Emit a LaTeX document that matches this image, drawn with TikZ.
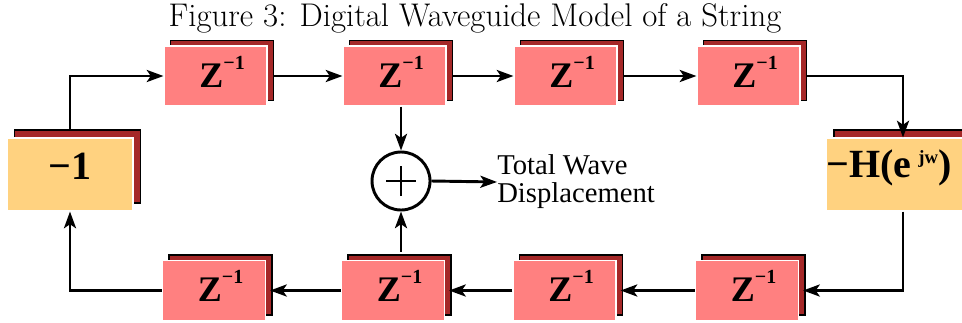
\documentclass[tikz,border=0pt]{standalone}
\usepackage{fontspec}
\newfontfamily\tms{Liberation Serif}
\usetikzlibrary{arrows.meta,shadows,calc}
\definecolor{zpink}{RGB}{255,128,128}
\definecolor{shred}{RGB}{165,40,40}
\definecolor{ygold}{RGB}{255,210,128}
\newcommand\zinv{\tms\bfseries\fontsize{27}{27}\selectfont\hspace*{10pt}Z\raisebox{13.5pt}{\fontsize{15}{15}\selectfont −1}}
\begin{document}
\begin{tikzpicture}[x=0.75pt,y=-0.75pt,
  box/.style={rectangle, inner sep=0pt, draw=white, line width=0.8pt},
  zbox/.style={box, fill=zpink, minimum width=77.25pt, minimum height=45pt,
    text height=20pt, text depth=3.5pt,
    copy shadow={shadow xshift=5pt, shadow yshift=4.2pt, fill=shred, draw=black, line width=1.2pt}},
  ybox/.style={box, fill=ygold, minimum width=94.5pt, minimum height=54.75pt,
    copy shadow={shadow xshift=5.5pt, shadow yshift=6pt, fill=shred, draw=black, line width=1.2pt}},
  conn/.style={line width=2.2pt, -{Stealth[length=12.5pt,width=9pt,inset=3pt]}},
  sumnode/.style={circle, draw=black, line width=2.2pt, fill=white, minimum size=43.5pt, inner sep=0pt},
  ]
\useasboundingbox (0,0) rectangle (962,322);

\node[anchor=base, inner sep=0pt] (title) at (475,26) {\fontsize{24.6}{24.6}\selectfont Figure 3: Digital Waveguide Model of a String};

% top row
\node[zbox] (z1) at (215.5,76) {\zinv};
\node[zbox] (z2) at (394.5,76) {\zinv};
\node[zbox] (z3) at (565.5,76) {\zinv};
\node[zbox] (z4) at (748.5,76) {\zinv};
% bottom row
\node[zbox] (b1) at (214,290.5) {\zinv};
\node[zbox] (b2) at (393,290.5) {\zinv};
\node[zbox] (b3) at (564.5,290.5) {\zinv};
\node[zbox] (b4) at (747,290.5) {\zinv};
% side boxes
\node[ybox, text height=12pt, text depth=5.2pt] (m1) at (70,174.5)
  {\tms\bfseries\fontsize{30}{30}\selectfont −1};
\node[ybox, text height=10pt, text depth=6.2pt] (hb) at (897,174.5)
  {\tms\bfseries\fontsize{30}{30}\selectfont −H(e\hspace{5pt}\raisebox{10.5pt}{\fontsize{14}{14}\selectfont jw})\hspace*{12pt}};

% summation
\node[sumnode] (sum) at (401,181) {};
\draw[line width=2pt] ([xshift=-11.25pt]sum.center) -- ([xshift=11.25pt]sum.center);
\draw[line width=2pt] ([yshift=-11.25pt]sum.center) -- ([yshift=11.25pt]sum.center);

\node[anchor=west, inner sep=0pt, align=left, font=\tms\fontsize{21.5}{21}\selectfont] (tw) at (497,182)
  {Total Wave\\Displacement};

% connectors
\draw[conn] ([yshift=6pt]m1.north) |- (z1.west);
\draw[conn] ([xshift=5pt]z1.east) -- (z2.west);
\draw[conn] ([xshift=5pt]z2.east) -- (z3.west);
\draw[conn] ([xshift=5pt]z3.east) -- (z4.west);
\draw[conn] ([xshift=5pt]z4.east) -| ([xshift=4.5pt]hb.north);
\draw[conn] ([xshift=4.5pt]hb.south) |- ([xshift=3pt]b4.east);
\draw[conn] (b4.west) -- ([xshift=3pt]b3.east);
\draw[conn] (b3.west) -- ([xshift=3pt]b2.east);
\draw[conn] (b2.west) -- ([xshift=3pt]b1.east);
\draw[conn] (b1.west) -| (m1.south);
\draw[conn] (sum.north |- z2.south) -- (sum.north);
\draw[conn] ($(sum.south |- b2.north)+(0,-8)$) -- (sum.south);
\draw[line width=2.2pt, -{Stealth[length=12.5pt,width=9pt,inset=3pt,fill=gray!70]}] (sum.east) -- (tw.west);
\end{tikzpicture}
\end{document}
